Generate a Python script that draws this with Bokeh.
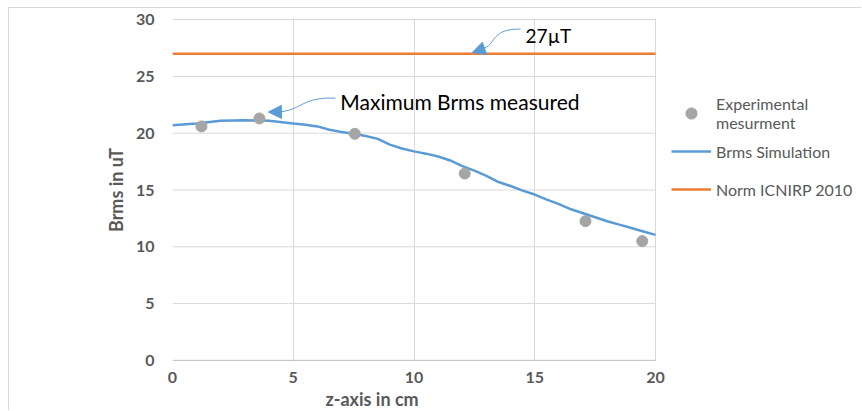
from bokeh.plotting import figure
from bokeh.models import Legend, LegendItem, Label, Arrow, NormalHead, FixedTicker, Range1d, Title
from bokeh.embed import file_html
from bokeh.resources import INLINE

# ---- data ----
exp_z = [1.2, 3.6, 7.55, 12.1, 17.1, 19.45]
exp_b = [20.6, 21.3, 19.95, 16.45, 12.25, 10.5]

sim_z = [0, 1, 2, 3, 4, 5, 5.5, 6, 6.5, 7, 7.5, 8, 8.5, 9, 9.5, 10, 10.5, 11, 11.5,
         12, 12.5, 13, 13.5, 14, 14.5, 15, 15.5, 16, 16.5, 17, 17.5, 18, 18.5, 19, 19.5, 20]
sim_b = [20.7, 20.85, 21.1, 21.15, 21.1, 20.85, 20.75, 20.6, 20.3, 20.1, 19.95, 19.75,
         19.5, 19.0, 18.65, 18.4, 18.2, 17.95, 17.6, 17.1, 16.7, 16.25, 15.7, 15.35,
         14.95, 14.6, 14.15, 13.75, 13.3, 12.95, 12.6, 12.25, 11.95, 11.65, 11.35, 11.05]

norm_z = [0, 20]
norm_b = [27, 27]

x_ticks = [0, 5, 10, 15, 20]
y_ticks = [0, 5, 10, 15, 20, 25, 30]

BLUE = "#5b9bd5"
ORANGE = "#ed7d31"
GREY = "#a5a5a5"
GRID = "#d9d9d9"
TXT = "#595959"
FONT = "Lato"

X_MAX = x_ticks[-1]

# frame extends to the right edge so the legend can sit inside it;
# grid lines are limited to the 0..20 data area.
p = figure(width=853, height=403, output_backend="svg", toolbar_location=None,
           x_range=Range1d(0, 28.57), y_range=Range1d(-0.1, 30.1),
           min_border_left=163, min_border_right=0, min_border_top=10, min_border_bottom=50)
p.margin = (7, 0, 0, 8)
p.styles = {"border-top": "1px solid #d9d9d9", "border-left": "1px solid #d9d9d9"}
p.outline_line_color = None
p.background_fill_color = "white"

for ax in (p.xaxis[0], p.yaxis[0]):
    ax.major_tick_line_color = None
    ax.minor_tick_line_color = None
    ax.axis_line_color = None
    ax.major_label_text_font = FONT
    ax.major_label_text_font_style = "bold"
    ax.major_label_text_font_size = "16px"
    ax.major_label_text_color = TXT
    ax.axis_label_text_font = FONT
    ax.axis_label_text_font_style = "bold"
    ax.axis_label_text_font_size = "18px"
    ax.axis_label_text_color = TXT

p.xaxis.ticker = FixedTicker(ticks=x_ticks)
p.yaxis.ticker = FixedTicker(ticks=y_ticks)
p.yaxis.axis_label = "Brms in uT"
p.xaxis.major_label_standoff = 4
p.yaxis.major_label_standoff = 12
p.yaxis.axis_label_standoff = 6

xtitle = Title(text="z-axis in cm", align="left", offset=153, text_font=FONT,
               text_font_style="bold", text_font_size="18px", text_color=TXT, standoff=0)
p.add_layout(xtitle, "below")

p.xgrid.grid_line_color = GRID
p.xgrid.ticker = FixedTicker(ticks=x_ticks)
p.ygrid.visible = False
# horizontal grid lines only across the data area
p.segment(x0=[0] * (len(y_ticks) - 1), y0=y_ticks[1:], x1=[X_MAX] * (len(y_ticks) - 1),
          y1=y_ticks[1:], line_color=GRID, line_width=1)
# bottom axis line
p.segment(x0=[0], y0=[0], x1=[X_MAX], y1=[0], line_color="#bfbfbf", line_width=1)

r_sim = p.line(sim_z, sim_b, line_color=BLUE, line_width=2.5)
r_norm = p.line(norm_z, norm_b, line_color=ORANGE, line_width=2.5)
r_exp = p.scatter(exp_z, exp_b, size=11, fill_color=GREY, line_color=GREY)

# annotations
p.bezier(x0=[4.51], y0=[21.9], x1=[6.75], y1=[23.09], cx0=[5.35], cy0=[22.1],
         cx1=[5.4], cy1=[23.2], line_color=BLUE, line_width=1)
p.add_layout(Arrow(x_start=4.55, y_start=21.88, x_end=3.97, y_end=21.86,
                   line_color=BLUE, line_width=1,
                   end=NormalHead(size=13, fill_color=BLUE, line_color=BLUE)))
p.add_layout(Label(x=6.95, y=22.75, text="Maximum Brms measured", text_font=FONT,
                   text_font_size="21px", text_color="black", text_baseline="middle"))

p.bezier(x0=[12.92], y0=[27.5], x1=[14.41], y1=[29.17], cx0=[13.4], cy0=[27.9],
         cx1=[13.2], cy1=[29.2], line_color=BLUE, line_width=1)
p.add_layout(Arrow(x_start=12.95, y_start=27.5, x_end=12.41, y_end=27.1,
                   line_color=BLUE, line_width=1,
                   end=NormalHead(size=13, fill_color=BLUE, line_color=BLUE)))
p.add_layout(Label(x=14.62, y=28.6, text="27\u00b5T", text_font=FONT,
                   text_font_size="19px", text_color="black", text_baseline="middle"))

legend = Legend(items=[
    LegendItem(label="Experimental\nmesurment", renderers=[r_exp]),
    LegendItem(label="Brms Simulation", renderers=[r_sim]),
    LegendItem(label="Norm ICNIRP 2010", renderers=[r_norm]),
], location=(499, 153))
legend.padding = 0
legend.margin = 0
legend.spacing = -4
legend.glyph_width = 40
legend.glyph_height = 28
legend.label_height = 38
legend.label_standoff = 5
legend.label_text_font = FONT
legend.label_text_font_size = "16px"
legend.label_text_color = TXT
legend.border_line_color = None
legend.background_fill_alpha = 0
p.add_layout(legend, "center")

open("out.html", "w").write(file_html(p, INLINE))
